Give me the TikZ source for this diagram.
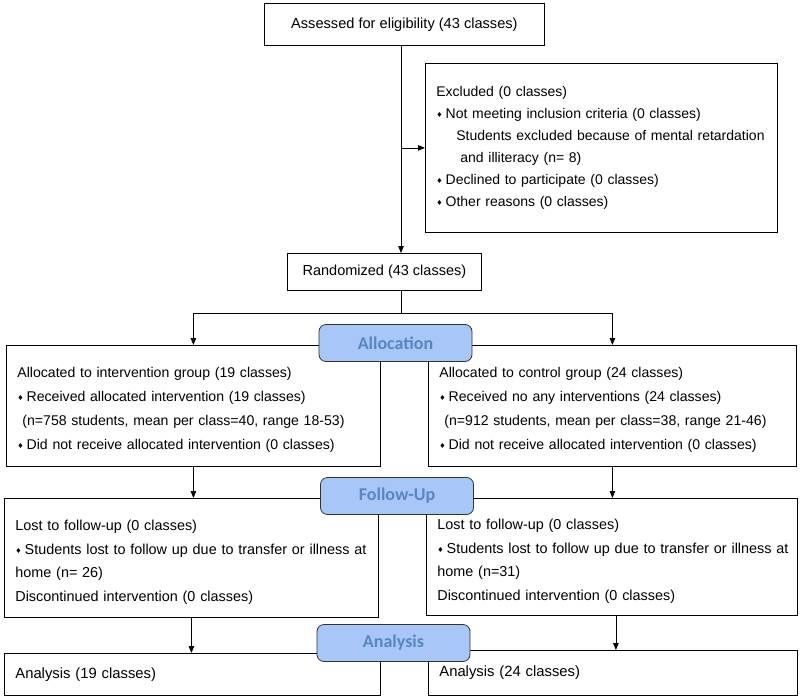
\documentclass[tikz,border=0pt]{standalone}
\usepackage{fontspec}
\setmainfont{Liberation Sans}
\newfontfamily\djv{DejaVu Sans}
\newfontfamily\calib{Carlito}
\usetikzlibrary{arrows.meta}
\definecolor{stagefill}{RGB}{168,198,247}
\definecolor{stagetext}{RGB}{88,134,194}
\newcommand{\bul}{{\djv\fontsize{7}{7}\selectfont\raisebox{1pt}{♦}}\hspace{3pt}}
\begin{document}
\begin{tikzpicture}[x=1pt,y=-1pt,
  box/.style={draw, line width=0.8pt, inner xsep=11pt, inner ysep=0pt, anchor=north west, align=left, font=\fontsize{14}{23}\selectfont},
  cbox/.style={draw, line width=0.8pt, anchor=north west, align=center, font=\fontsize{14.5}{17}\selectfont},
  stage/.style={draw=black!80, line width=0.8pt, fill=stagefill, rounded corners=7pt, font=\calib\bfseries\fontsize{18}{18}\selectfont, text=stagetext, minimum width=153pt, minimum height=37pt, inner sep=0pt},
  arr/.style={-{Triangle[length=7pt,width=5.5pt]}, line width=0.8pt}]
\useasboundingbox (0,0) rectangle (800,698);

\node[cbox, minimum width=280pt, minimum height=42pt, font=\fontsize{14.6}{17}\selectfont] (assess) at (264,3) {Assessed for eligibility (43 classes)};

\node[box, text width=330pt, minimum height=169pt, font=\fontsize{14}{22}\selectfont] (excl) at (425,63) {Excluded (0 classes)\\
\bul Not meeting inclusion criteria (0 classes)\\
\hspace*{20pt}Students excluded because of mental retardation\\
\hspace*{24pt}and illiteracy (n= 8)\\
\bul Declined to participate (0 classes)\\
\bul Other reasons (0 classes)};

\node[cbox, minimum width=194pt, minimum height=37pt] (rand) at (287,253) {Randomized (43 classes)};

\coordinate (sp) at (401,313);

\node[box, text width=352pt, minimum height=121pt, font=\fontsize{14.1}{24}\selectfont] (allocL) at (6,345) {\rule{0pt}{18pt}Allocated to intervention group (19 classes)\\
\bul Received allocated intervention (19 classes)\\
\hspace*{5pt}(n=758 students, mean per class=40, range 18-53)\\
\bul Did not receive allocated intervention (0 classes)};

\node[box, text width=346pt, minimum height=121pt, font=\fontsize{14.1}{24}\selectfont] (allocR) at (428,345) {\rule{0pt}{18pt}Allocated to control group (24 classes)\\
\bul Received no any interventions (24 classes)\\
\hspace*{5pt}(n=912 students, mean per class=38, range 21-46)\\
\bul Did not receive allocated intervention (0 classes)};

\node[box, text width=352pt, minimum height=119pt, font=\fontsize{14.4}{23.5}\selectfont] (fuL) at (4,498) {\rule{0pt}{19pt}Lost to follow-up (0 classes)\\
\mbox{\bul Students lost to follow up due to transfer or illness at}\\
home (n= 26)\\
Discontinued intervention (0 classes)};

\node[box, text width=349pt, minimum height=117pt, font=\fontsize{14.4}{23.5}\selectfont] (fuR) at (426,498) {\rule{0pt}{19pt}Lost to follow-up (0 classes)\\
\mbox{\bul Students lost to follow up due to transfer or illness at}\\
home (n=31)\\
Discontinued intervention (0 classes)};

\node[box, text width=354pt, minimum height=42pt, font=\fontsize{14.8}{23}\selectfont] (anL) at (4,653) {Analysis (19 classes)};
\node[box, text width=347pt, minimum height=45pt, font=\fontsize{14.8}{23}\selectfont] (anR) at (428,650) {Analysis (24 classes)\\[3pt]};

% connectors
\draw[arr] (sp |- assess.south) -- (sp |- rand.north);
\draw[arr] (sp |- excl.west) -- (excl.west);
\draw (sp |- rand.south) -- (sp);
\draw[arr] (sp) -| (allocL.north);
\draw[arr] (sp) -| (allocR.north);
\draw[arr] (allocL.south) -- (allocL.south |- fuL.north);
\draw[arr] (allocR.south) -- (allocR.south |- fuR.north);
\draw[arr] (fuL.south) -- (fuL.south |- anL.north);
\draw[arr] ([xshift=4pt]fuR.south) -- ([xshift=4pt]fuR.south |- anR.north);

% stage labels
\node[stage] (salloc) at (395.5,343) {Allocation};
\node[stage] (sfu) at (397,496) {Follow-Up};
\node[stage] (san) at (393.5,643) {Analysis};
\end{tikzpicture}
\end{document}
